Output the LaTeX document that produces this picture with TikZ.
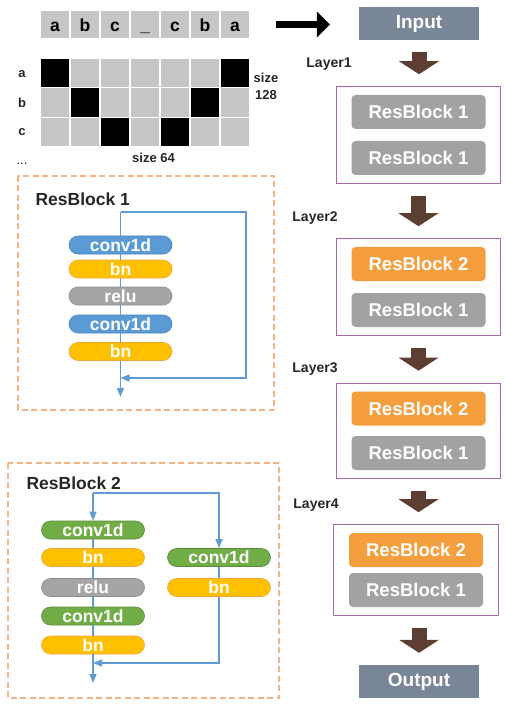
\documentclass[tikz,border=0pt]{standalone}
\usepackage{fontspec}
\setmainfont{Liberation Sans}
\usetikzlibrary{arrows.meta,fit}
\definecolor{seqgray}{RGB}{198,198,198}
\definecolor{iogray}{RGB}{120,134,152}
\definecolor{arrowbrown}{RGB}{92,62,50}
\definecolor{layerpurple}{RGB}{168,104,172}
\definecolor{rbgray}{RGB}{162,162,162}
\definecolor{rborange}{RGB}{245,158,61}
\definecolor{panelorange}{RGB}{244,180,132}
\definecolor{convblue}{RGB}{91,155,213}
\definecolor{convgreen}{RGB}{112,173,71}
\definecolor{bnyellow}{RGB}{255,192,0}
\definecolor{bnedge}{RGB}{240,165,60}
\definecolor{relugray}{RGB}{165,165,165}
\definecolor{flowblue}{RGB}{96,156,212}
\definecolor{txtdark}{RGB}{38,38,38}

\begin{document}
\begin{tikzpicture}[x=1pt,y=-1pt,
    every node/.style={font=\bfseries},
    cell/.style={fill=seqgray, draw=white, line width=1.5pt, minimum width=30pt, minimum height=29pt, inner sep=0pt,
        text height=14pt, text depth=0pt, font=\fontsize{17.5}{17.5}\selectfont\bfseries},
    lbl/.style={anchor=base, text=txtdark, font=\fontsize{13}{17}\selectfont\bfseries},
    layerlbl/.style={anchor=base, text=txtdark, font=\fontsize{14}{14}\selectfont\bfseries},
    resblk/.style={rounded corners=4pt, minimum width=134pt, minimum height=34pt, inner sep=0pt, text=white,
        font=\fontsize{18.5}{18.5}\selectfont\bfseries},
    layerbox/.style={draw=layerpurple, line width=1.2pt, inner xsep=15pt, inner ysep=8pt},
    iobox/.style={fill=iogray, minimum width=120pt, minimum height=33pt, inner sep=0pt, text=white,
        font=\fontsize{19}{19}\selectfont\bfseries},
    fatarrow/.style={draw=arrowbrown, line width=15pt, shorten <=12pt, shorten >=12pt,
        -{Triangle[length=13pt,width=40pt,line width=0pt]}},
    pill/.style={rounded corners=9pt, minimum width=103pt, minimum height=18pt, inner sep=0pt, line width=0.6pt,
        text=white, font=\fontsize{17.5}{17.5}\selectfont\bfseries},
    convb/.style={pill, fill=convblue, draw=convblue!85!black},
    convg/.style={pill, fill=convgreen, draw=convgreen!80!black},
    bnpill/.style={pill, fill=bnyellow, draw=bnedge},
    relupill/.style={pill, fill=relugray, draw=relugray!85!black},
    flow/.style={draw=flowblue, line width=1.3pt},
    tip/.style={-{Triangle[length=9pt,width=7pt]}},
    panel/.style={draw=panelorange, line width=1.6pt, dash pattern=on 6pt off 3.5pt},
    title/.style={anchor=base west, text=txtdark, font=\fontsize{17.5}{17.5}\selectfont\bfseries}
]
\useasboundingbox (0,0) rectangle (507,708);

% input sequence and one-hot grid
\foreach \ch [count=\i] in {a,b,c,\_,c,b,a}
    \node[cell] (s\i) at (25+30*\i,24.5) {\ch};
\foreach \r in {1,2,3}
    \foreach \c in {1,...,7}
        \filldraw[fill=seqgray, draw=white, line width=1.5pt] (10+30*\c,28.33+29.67*\r) rectangle ++(30,29.67);
\foreach \r/\c in {1/1,1/7,2/2,2/6,3/3,3/5}
    \filldraw[fill=black, draw=white, line width=1.5pt] (10+30*\c,28.33+29.67*\r) rectangle ++(30,29.67);
\node[lbl] (ra) at (22,78) {a};
\node[lbl] (rb) at (22,108) {b};
\node[lbl] (rc) at (22,136) {c};
\node[lbl, font=\fontsize{13}{13}\selectfont] (rdots) at (22,165) {...};
\node[lbl] (sz64) at (153.5,163) {size 64};
\node[lbl, align=center] (sz128) at (266,100) {size\\128};

% network
\node[iobox] (input) at (419,23.5) {Input};
\node[iobox] (output) at (419,681.5) {Output};
\draw[draw=black, line width=7pt, shorten <=25pt, shorten >=29pt, -{Triangle[length=13pt,width=26pt,line width=0pt]}]
    (s7.east) -- (s7.east -| input.west);

\node[resblk, fill=rbgray] (l1a) at (418.5,112) {ResBlock 1};
\node[resblk, fill=rbgray] (l1b) at (418.5,158) {ResBlock 1};
\node[layerbox, fit=(l1a)(l1b)] (layer1) {};
\node[resblk, fill=rborange] (l2a) at (418.5,264) {ResBlock 2};
\node[resblk, fill=rbgray] (l2b) at (418.5,310) {ResBlock 1};
\node[layerbox, fit=(l2a)(l2b)] (layer2) {};
\node[resblk, fill=rborange] (l3a) at (418.5,408.5) {ResBlock 2};
\node[resblk, fill=rbgray] (l3b) at (418.5,453) {ResBlock 1};
\node[layerbox, fit=(l3a)(l3b)] (layer3) {};
\node[resblk, fill=rborange] (l4a) at (416,550) {ResBlock 2};
\node[resblk, fill=rbgray] (l4b) at (416,590) {ResBlock 1};
\node[layerbox, fit=(l4a)(l4b)] (layer4) {};

\draw[fatarrow] (input) -- (input |- layer1.north);
\draw[fatarrow] (layer1) -- (layer1 |- layer2.north);
\draw[fatarrow] (layer2) -- (layer2 |- layer3.north);
\draw[fatarrow] (layer3) -- (layer3 |- layer4.north);
\draw[fatarrow] (layer4.south -| output) -- (output);

\node[layerlbl] (lab1) at (329,68) {Layer1};
\node[layerlbl] (lab2) at (315,222) {Layer2};
\node[layerlbl] (lab3) at (315,372) {Layer3};
\node[layerlbl] (lab4) at (316,508) {Layer4};

% ResBlock 1
\draw[panel] (18,176) rectangle (274,410);
\node[title] (t1) at (32,206) {ResBlock 1};
\node[convb] (p1a) at (120.5,245) {conv1d};
\node[bnpill] (p1b) at (120.5,269) {bn};
\node[relupill] (p1c) at (120.5,296) {relu};
\node[convb] (p1d) at (120.5,324) {conv1d};
\node[bnpill] (p1e) at (120.5,351.5) {bn};
\coordinate (in1) at (120.5,212);
\coordinate (skip1) at (246,378);
\coordinate (join1) at (120.5,378);
\coordinate (out1) at (120.5,397);
\draw[flow] (in1) -- (p1a) -- (p1b) -- (p1c) -- (p1d) -- (p1e);
\draw[flow, tip] (p1e) -- (out1);
\draw[flow, tip] (in1) -| (skip1) -- (join1);

% ResBlock 2
\draw[panel] (8,463) rectangle (279,698);
\node[title] (t2) at (23,489) {ResBlock 2};
\node[convg] (p2a) at (93,530) {conv1d};
\node[bnpill] (p2b) at (93,557.5) {bn};
\node[relupill] (p2c) at (93,587.5) {relu};
\node[convg] (p2d) at (93,616) {conv1d};
\node[bnpill] (p2e) at (93,645) {bn};
\node[convg] (p2f) at (219,557.5) {conv1d};
\node[bnpill] (p2g) at (219,587.5) {bn};
\coordinate (in2) at (93,493);
\coordinate (join2) at (93,663);
\coordinate (out2) at (93,683);
\draw[flow, tip] (in2) -- (p2a);
\draw[flow] (p2a) -- (p2b) -- (p2c) -- (p2d) -- (p2e);
\draw[flow, tip] (p2e) -- (out2);
\draw[flow, tip] (in2) -| (p2f);
\draw[flow] (p2f) -- (p2g);
\draw[flow, tip] (p2g) |- (join2);
\end{tikzpicture}
\end{document}
